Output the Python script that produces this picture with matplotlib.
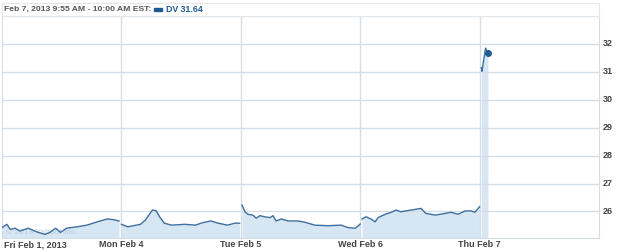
import numpy as np
import matplotlib
matplotlib.use('Agg')
import matplotlib.pyplot as plt

# intraday DV prices, x = fraction of each trading session
dayLabels = ['Fri Feb 1, 2013', 'Mon Feb 4', 'Tue Feb 5', 'Wed Feb 6', 'Thu Feb 7']
yTicks = [26, 27, 28, 29, 30, 31, 32]

friX = [0, .04, .07, .11, .15, .22, .29, .36, .40, .45, .49, .54, .63, .71, .80, .88, .93, .98]
friY = [25.42, 25.54, 25.36, 25.40, 25.30, 25.40, 25.27, 25.18, 25.25, 25.40, 25.25, 25.40,
        25.45, 25.51, 25.63, 25.73, 25.71, 25.66]
monX = [0, .055, .10, .16, .20, .24, .26, .29, .32, .36, .42, .53, .62, .68, .75, .81, .89, .95, .99]
monY = [25.54, 25.45, 25.49, 25.54, 25.69, 25.93, 26.05, 26.03, 25.81, 25.58, 25.51, 25.54,
        25.51, 25.60, 25.66, 25.58, 25.51, 25.58, 25.58]
tueX = [.01, .035, .06, .10, .13, .16, .20, .245, .27, .295, .34, .395, .48, .54, .62, .73, .84,
        .90, .96, 1.0]
tueY = [26.23, 25.99, 25.90, 25.87, 25.76, 25.85, 25.81, 25.78, 25.85, 25.66, 25.73, 25.66,
        25.66, 25.61, 25.51, 25.49, 25.51, 25.42, 25.40, 25.55]
wedX = [.015, .05, .09, .125, .15, .21, .26, .30, .34, .425, .51, .55, .63, .71, .76, .82, .88,
        .93, .96, 1.0]
wedY = [25.73, 25.81, 25.73, 25.63, 25.78, 25.90, 25.97, 26.05, 25.99, 26.05, 26.11, 25.93,
        25.87, 25.93, 25.97, 25.90, 26.02, 26.02, 25.97, 26.17]
thuX = [.015, .02, .05, .06, .07]
thuY = [31.15, 31.02, 31.85, 31.75, 31.66]

lineColor = '#3d6e9e'
fillColor = '#d6e6f2'
gridColor = '#d5dee6'
textColor = '#444444'


def main():
    plt.rcParams['font.family'] = ['Liberation Sans', 'DejaVu Sans']
    fig = plt.figure(figsize=(6.25, 2.52), dpi=100)
    W, H = 625.0, 252.0
    ax = fig.add_axes([2 / W, (H - 238) / H, 597 / W, 222 / H])
    head = fig.add_axes([2 / W, (H - 16) / H, 597 / W, 13 / H])

    days = [(friX, friY), (monX, monY), (tueX, tueY), (wedX, wedY), (thuX, thuY)]
    bottom = 25.05
    for i, (xs, ys) in enumerate(days):
        x = np.array(xs) + i
        ax.fill_between(x, ys, bottom, color=fillColor, lw=0, zorder=1)
        ax.plot(x, ys, color=lineColor, lw=1, zorder=3)
    ax.plot(thuX[-1] + 4, thuY[-1], 'o', color='#1f5b96', ms=4, zorder=4)

    for v in yTicks:
        ax.axhline(v, color=gridColor, lw=1, zorder=2)
    for d in range(1, 5):
        ax.axvline(d, color=gridColor, lw=1, zorder=2)

    ax.set_xlim(0, 5)
    ax.set_ylim(bottom, 33.0)
    ax.set_xticks([])
    ax.set_yticks([])
    for s in ax.spines.values():
        s.set_color(gridColor)

    # tick labels
    for v in yTicks:
        ax.text(5.03, v, str(v), ha='left', va='center', fontsize=6.5, fontweight='bold',
                color=textColor, clip_on=False)
    for i, lab in enumerate(dayLabels):
        ax.text(i + (0.02 if i == 0 else 0), 25.05 - 0.08, lab, ha='left' if i == 0 else 'center',
                va='top', fontsize=6.5, fontweight='bold', color=textColor, clip_on=False)
    ax.text(0.03, 25.2, '\u00a9 2013 Yahoo! Inc.', fontsize=6, color='#bccad7', zorder=2)

    # header
    head.set_xlim(0, 597)
    head.set_ylim(0, 13)
    head.set_xticks([])
    head.set_yticks([])
    for s in head.spines.values():
        s.set_color('#e2e7ec')
    head.text(1.5, 6.5, 'Feb 7, 2013 9:55 AM - 10:00 AM EST:', fontsize=6.1, fontweight='bold',
              color='#555555', va='center')
    head.add_patch(plt.Rectangle((152, 5.5), 8, 2.5, color='#1f5b96'))
    head.text(164, 6.5, 'DV 31.64', fontsize=6.3, fontweight='bold', color='#1f5b96', va='center')

    fig.savefig('out.png', dpi=100)


if __name__ == "__main__":
    main()
